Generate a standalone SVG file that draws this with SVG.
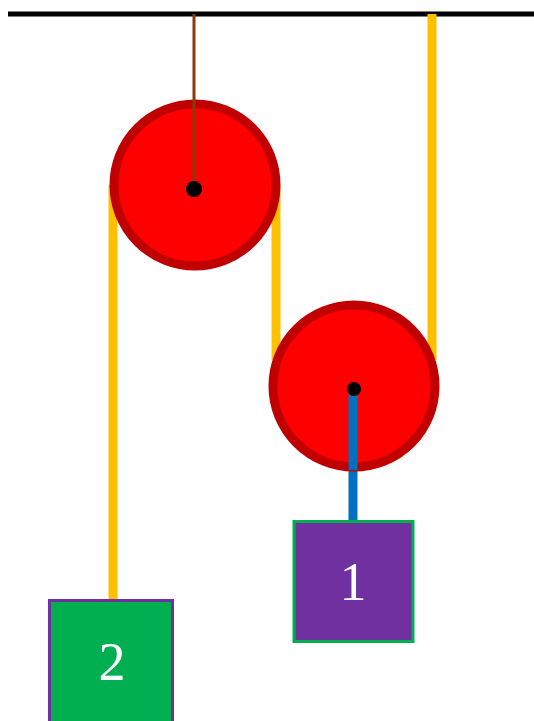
<svg xmlns="http://www.w3.org/2000/svg" width="534" height="721" viewBox="0 0 534 721">
<style>
.rope{stroke:#FFC000;stroke-width:9;fill:none}
.pulley{fill:#FF0000;stroke:#C00000;stroke-width:9}
.axle{fill:#000}
.lbl{font-family:"Liberation Serif","DejaVu Serif",serif;font-size:54px;fill:#FFFFFF;text-anchor:middle}
</style>
<rect width="534" height="721" fill="#FFFFFF"/>
<g id="ceiling"><line x1="8" y1="14" x2="534" y2="14" stroke="#000" stroke-width="5"/></g>
<g id="connectors">
<line class="rope" x1="113" y1="185" x2="113" y2="600"/>
<line class="rope" x1="276" y1="185" x2="276" y2="360"/>
<line class="rope" x1="432" y1="14" x2="432" y2="360"/>
<line x1="353" y1="389" x2="353" y2="521" stroke="#0070C0" stroke-width="9"/>
</g>
<g id="pulley-top">
<circle class="pulley" cx="195" cy="185" r="81"/>
<line x1="194" y1="14" x2="194" y2="189" stroke="#843C0C" stroke-width="3"/>
<circle class="axle" cx="194" cy="189" r="8"/>
</g>
<g id="pulley-bottom">
<circle class="pulley" cx="354" cy="386" r="81"/>
<line x1="353" y1="395" x2="353" y2="470" stroke="#0070C0" stroke-width="9"/>
<circle class="axle" cx="354" cy="389" r="7"/>
</g>
<g id="block-1">
<rect x="294" y="521.5" width="119" height="120" fill="#7030A0" stroke="#00B050" stroke-width="3"/>
<text class="lbl" x="353" y="600">1</text>
</g>
<g id="block-2">
<rect x="49.5" y="600.5" width="123" height="125" fill="#00B050" stroke="#7030A0" stroke-width="3"/>
<text class="lbl" x="112" y="680">2</text>
</g>
</svg>
